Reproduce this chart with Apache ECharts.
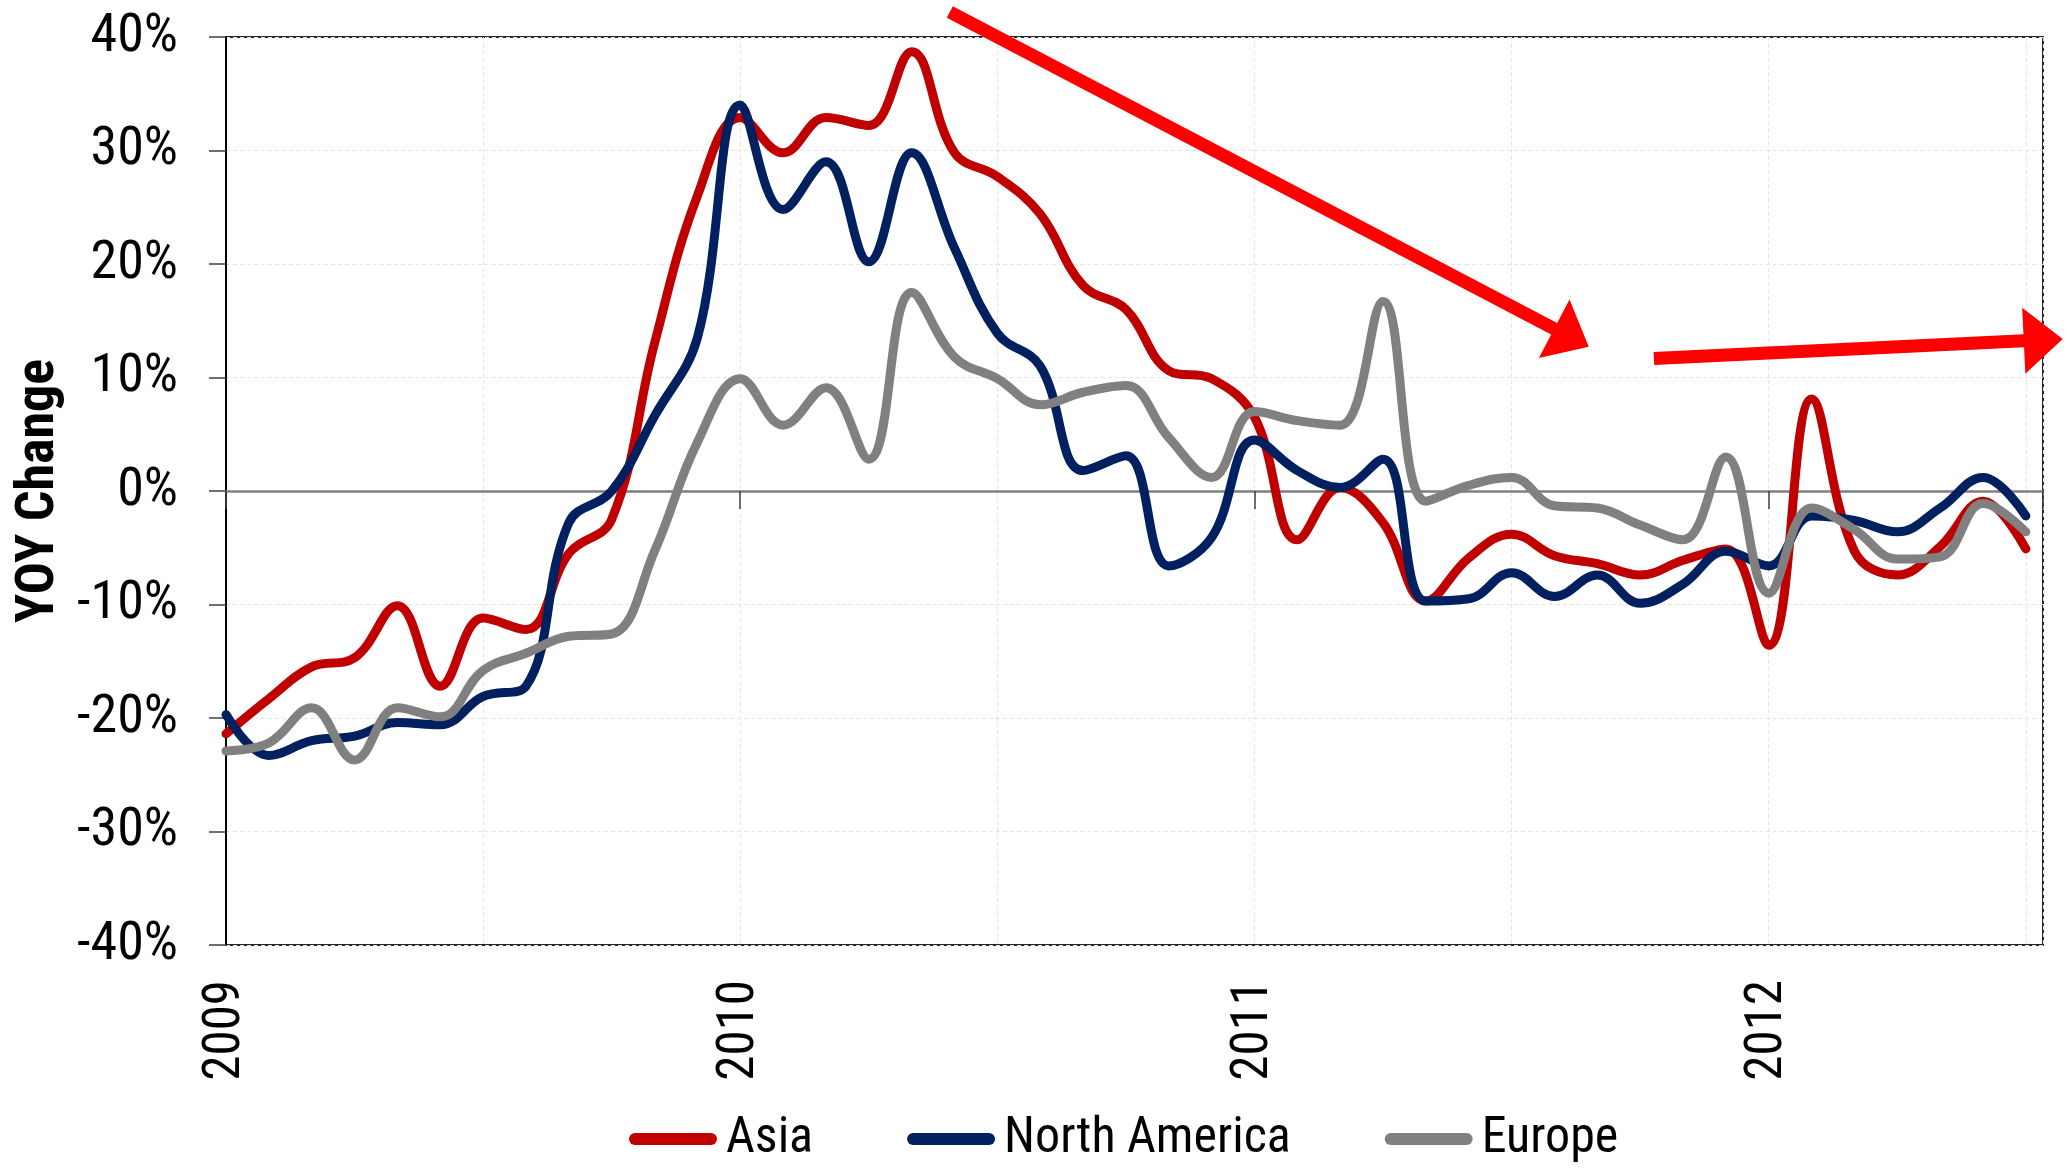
<!DOCTYPE html>
<html>
<head>
<meta charset="utf-8">
<title>YOY Change by Region</title>
<script src="https://cdn.jsdelivr.net/npm/echarts@6/dist/echarts.min.js"></script>
<style>
  html, body { margin: 0; padding: 0; background: #ffffff; }
  #chart { width: 2070px; height: 1176px; }
</style>
</head>
<body>
<div id="chart"></div>
<script>
// Monthly year-over-year change (%), Jan 2009 .. Jul 2012 (index 0 = Jan 2009)
const yearLabels = ['2009', '2010', '2011', '2012'];

const asia = [
  -21.4, -18.3, -15.5, -14.7, -10.1, -17.2, -11.2, -12.2, -5.5, -2.5, 13.0, 26.0,
  32.9, 29.8, 32.9, 32.2, 38.7, 29.8, 27.7, 24.4, 18.1, 16.0, 10.6, 9.9,
  6.5, -4.3, 0.3, -2.8, -9.7, -5.9, -3.8, -5.7, -6.4, -7.4, -6.1, -5.1,
  -13.6, 8.1, -5.3, -7.4, -4.9, -0.9, -5.1
];
const northAmerica = [
  -19.7, -23.3, -22.0, -21.6, -20.4, -20.6, -18.1, -17.2, -2.8, 0.0, 6.6, 13.5,
  34.0, 24.8, 29.0, 20.2, 29.8, 21.4, 13.9, 11.0, 1.8, 3.1, -6.6, -4.1,
  4.5, 1.8, 0.3, 2.8, -9.7, -9.5, -7.2, -9.3, -7.4, -9.9, -8.2, -5.3,
  -6.6, -2.2, -2.6, -3.6, -1.5, 1.2, -2.2
];
const europe = [
  -22.9, -22.2, -19.1, -23.7, -19.1, -19.9, -15.8, -14.3, -12.8, -12.6, -5.3, 4.3,
  9.9, 5.8, 9.1, 2.8, 17.5, 11.8, 9.9, 7.6, 8.7, 9.3, 4.7, 1.2,
  7.0, 6.2, 5.8, 16.7, -0.9, 0.5, 1.2, -1.3, -1.5, -3.0, -4.3, 3.0,
  -9.0, -1.5, -3.4, -6.0, -5.8, -1.1, -3.6
];

// Trend arrows, given in chart coordinates [month index, percent]
const trendArrows = [
  { from: [16.89, 42.2], to: [31.80, 12.7] },
  { from: [33.32, 11.67], to: [42.86, 13.4] }
];

const FONT = "'Roboto Condensed', 'Liberation Sans', Arial, sans-serif";

const toPairs = arr => arr.map((v, i) => [i, v]);

const chart = echarts.init(document.getElementById('chart'), null, { renderer: 'canvas' });

const lineSeries = (name, data, color) => ({
  name,
  type: 'line',
  xAxisIndex: 0,
  yAxisIndex: 0,
  data: toPairs(data),
  smooth: 0.4,
  showSymbol: false,
  symbol: 'none',
  lineStyle: { color, width: 9, cap: 'round', join: 'round' },
  itemStyle: { color },
  emphasis: { disabled: true },
  animation: false
});

const legendIcon = 'path://M6,0 L82,0 A6,6 0 0 1 82,12 L6,12 A6,6 0 0 1 6,0 Z';

chart.setOption({
  backgroundColor: '#ffffff',
  animation: false,
  grid: {
    left: 226, top: 37, right: 27, bottom: 231,
    outerBoundsMode: 'none',
    containLabel: false,
    show: true, borderColor: '#262626', borderWidth: 2, backgroundColor: 'transparent'
  },
  legend: {
    left: 624, top: 1109,
    itemWidth: 88, itemHeight: 12, itemGap: 94,
    icon: legendIcon,
    textStyle: { fontFamily: FONT, fontSize: 50, color: '#000', padding: [0, 0, 0, 4] },
    data: ['Asia', 'North America', 'Europe']
  },
  xAxis: [
    {
      type: 'value', min: 0, max: 42.4, interval: 6, position: 'bottom',
      axisLine: { show: false, onZero: false },
      axisTick: { show: false },
      splitLine: { show: true, lineStyle: { color: '#e4e4e4', width: 1, type: [4, 3] } },
      axisLabel: {
        show: true, rotate: 90, margin: 35, showMaxLabel: false,
        fontFamily: FONT, fontSize: 51, color: '#000',
        formatter: v => (v % 12 === 0 ? yearLabels[v / 12] : '')
      }
    },
    {
      type: 'value', min: 0, max: 42.4, interval: 12, position: 'bottom',
      axisLine: { show: true, onZero: true, lineStyle: { color: '#7f7f7f', width: 2.5 } },
      axisTick: { show: true, length: 18, lineStyle: { color: '#404040', width: 1.5 } },
      splitLine: { show: false },
      axisLabel: { show: false }
    }
  ],
  yAxis: {
    type: 'value', min: -40, max: 40, interval: 10,
    name: 'YOY Change', nameLocation: 'middle', nameGap: 158, nameRotate: 90,
    nameTextStyle: { fontFamily: FONT, fontSize: 54, fontWeight: 'bold', color: '#000' },
    axisLine: { show: true, lineStyle: { color: '#000', width: 2 } },
    axisTick: { show: true, length: 17, lineStyle: { color: '#404040', width: 1.5 } },
    splitLine: { show: true, lineStyle: { color: '#e4e4e4', width: 1, type: [4, 3] } },
    axisLabel: {
      margin: 48, fontFamily: FONT, fontSize: 54, color: '#000',
      formatter: v => v + '%'
    }
  },
  series: [
    lineSeries('Asia', asia, '#c00000'),
    lineSeries('North America', northAmerica, '#002060'),
    lineSeries('Europe', europe, '#808080')
  ]
});

// Block arrows drawn on top of the plot, anchored in chart coordinates
function arrowPolygon(p0, p1) {
  const shaftHalf = 6.5, headHalf = 33, headLen = 39;
  const dx = p1[0] - p0[0], dy = p1[1] - p0[1];
  const len = Math.hypot(dx, dy);
  const ux = dx / len, uy = dy / len;
  const nx = -uy, ny = ux;
  const bx = p1[0] - ux * headLen, by = p1[1] - uy * headLen;
  return [
    [p0[0] + nx * shaftHalf, p0[1] + ny * shaftHalf],
    [bx + nx * shaftHalf, by + ny * shaftHalf],
    [bx + nx * headHalf, by + ny * headHalf],
    [p1[0], p1[1]],
    [bx - nx * headHalf, by - ny * headHalf],
    [bx - nx * shaftHalf, by - ny * shaftHalf],
    [p0[0] - nx * shaftHalf, p0[1] - ny * shaftHalf]
  ];
}

const arrowGraphics = trendArrows.map((a, k) => ({
  type: 'polygon',
  id: 'arrow' + k,
  z: 100,
  shape: {
    points: arrowPolygon(
      chart.convertToPixel({ gridIndex: 0 }, a.from),
      chart.convertToPixel({ gridIndex: 0 }, a.to)
    )
  },
  style: { fill: '#ff0000' },
  silent: true
}));

chart.setOption({ graphic: arrowGraphics });
</script>
</body>
</html>
